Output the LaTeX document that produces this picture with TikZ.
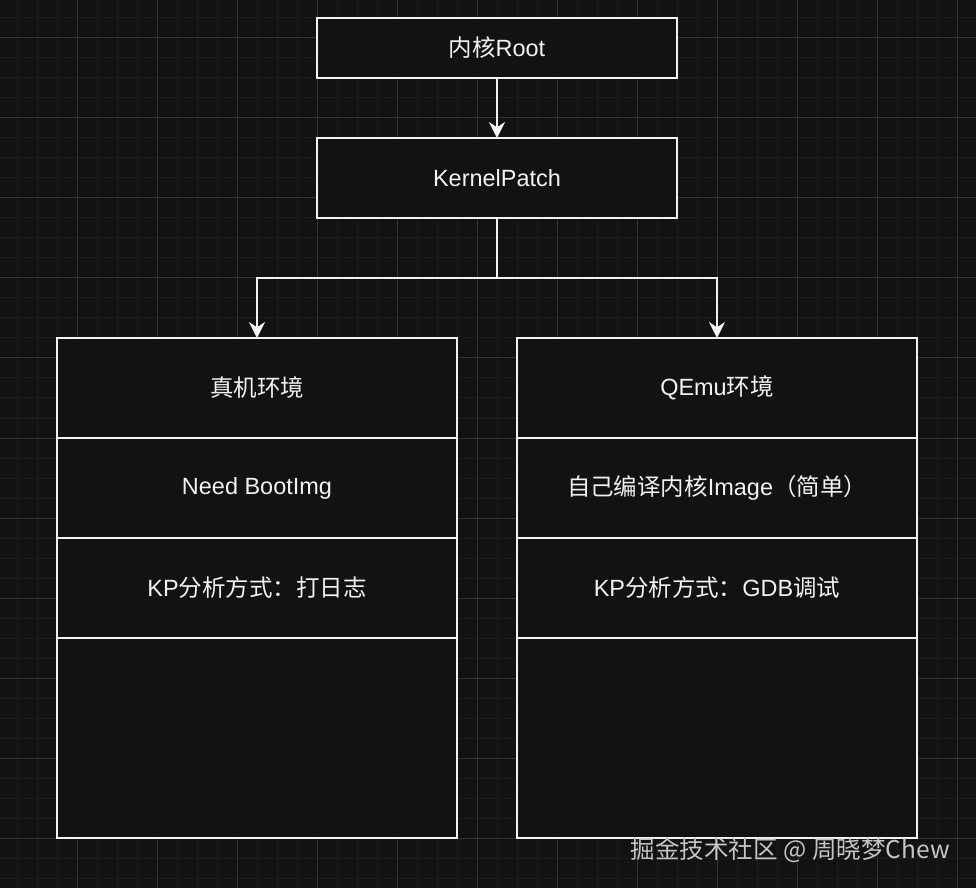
\documentclass[tikz,border=0pt]{standalone}
\usepackage{fontspec}
\setmainfont{Liberation Sans}
\newfontfamily\cjk{Noto Sans CJK SC}
\usetikzlibrary{arrows.meta}
\definecolor{bg}{HTML}{121212}
\definecolor{gminor}{HTML}{1B1B1B}
\definecolor{gmajor}{HTML}{323232}
\definecolor{fg}{HTML}{F2F2F2}
\definecolor{wmc}{HTML}{C4C4C4}
\begin{document}
\begin{tikzpicture}[x=0.75pt,y=-0.75pt,
  box/.style={draw=fg,fill=bg,line width=1.5pt,text=fg,inner sep=0pt,outer sep=0pt,
    font=\fontsize{17.6}{21}\selectfont,align=center},
  topbox/.style={box,minimum width=270pt,minimum height=45pt},
  midbox/.style={box,minimum width=270pt,minimum height=60pt},
  cell/.style={box,minimum width=300pt,minimum height=75pt},
  bigcell/.style={box,minimum width=300pt,minimum height=150pt},
  arr/.style={draw=fg,line width=1.5pt,-{Stealth[length=12pt,width=12pt,inset=4pt]}}]
\fill[bg] (0,0) rectangle (976,888);
\useasboundingbox (0,0) rectangle (976,888);
\foreach \i in {0,...,49} {\draw[gminor,line width=0.75pt] ({17+20*\i},0) -- ({17+20*\i},888);}
\foreach \i in {0,...,44} {\draw[gminor,line width=0.75pt] (0,{18+20*\i}) -- (976,{18+20*\i});}
\foreach \i in {0,...,11} {\draw[gmajor,line width=0.75pt] ({77+80*\i},0) -- ({77+80*\i},888);}
\foreach \i in {0,...,10} {\draw[gmajor,line width=0.75pt] (0,{38+80*\i}) -- (976,{38+80*\i});}
\node[topbox] (root) at (497,48) {{\cjk 内核}Root};
\node[midbox] (kp) at (497,178) {KernelPatch};
\node[cell] (l1) at (257,388) {{\cjk 真机环境}};
\node[cell] (l2) at (257,488) {Need BootImg};
\node[cell] (l3) at (257,588) {KP{\cjk 分析方式：打日志}};
\node[bigcell] (l4) at (257,738) {};
\node[cell] (r1) at (717,388) {QEmu{\cjk 环境}};
\node[cell] (r2) at (717,488) {{\cjk 自己编译内核}Image{\cjk （简单）}};
\node[cell] (r3) at (717,588) {KP{\cjk 分析方式：}GDB{\cjk 调试}};
\node[bigcell] (r4) at (717,738) {};
\coordinate (j) at (497,278);
\draw[arr] (root) -- (kp);
\draw[arr] (kp.south) -- (j) -| (l1.north);
\draw[arr] (kp.south) -- (j) -| (r1.north);
\node[anchor=east,text=wmc,inner sep=0pt,font=\cjk\fontsize{18.4}{22}\selectfont] (wm) at (950,850) {掘金技术社区 @ 周晓梦Chew};
\end{tikzpicture}
\end{document}
